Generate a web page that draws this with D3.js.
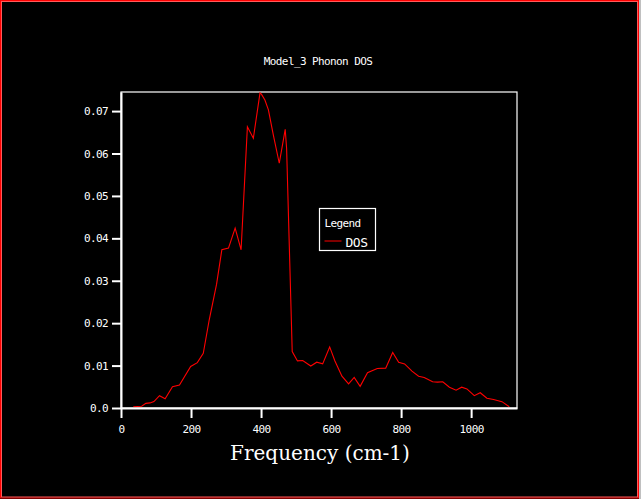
<!DOCTYPE html>
<html>
<head>
<meta charset="utf-8">
<script src="https://cdn.jsdelivr.net/npm/d3@7"></script>
<style>
  html, body { margin: 0; padding: 0; background: #000; overflow: hidden; }
  svg { display: block; }
</style>
</head>
<body>
<div id="chart"></div>
<script>
// values
const frequency = [35, 59, 71, 83, 94, 110, 126, 147, 167, 199, 218, 235, 252, 273, 288, 307, 326, 343, 361, 378, 397, 401, 411, 421, 435, 452, 462, 469, 473, 489, 504, 519, 542, 559, 576, 596, 611, 631, 650, 666, 683, 704, 732, 756, 776, 793, 810, 831, 850, 866, 890, 904, 919, 938, 957, 973, 988, 1009, 1026, 1045, 1064, 1088, 1109];
const dos = [0.0003, 0.0004, 0.0011, 0.0012, 0.0015, 0.0029, 0.0022, 0.0050, 0.0054, 0.0098, 0.0107, 0.0129, 0.0208, 0.0292, 0.0373, 0.0377, 0.0424, 0.0373, 0.0663, 0.0636, 0.0743, 0.0740, 0.0726, 0.0703, 0.0644, 0.0577, 0.0624, 0.0657, 0.0612, 0.0133, 0.0111, 0.0112, 0.0099, 0.0108, 0.0104, 0.0144, 0.0111, 0.0075, 0.0057, 0.0072, 0.0051, 0.0083, 0.0093, 0.0094, 0.0131, 0.0108, 0.0104, 0.0087, 0.0075, 0.0072, 0.0062, 0.0061, 0.0062, 0.0049, 0.0042, 0.0049, 0.0045, 0.0029, 0.0036, 0.0023, 0.0020, 0.0015, 0.0003];
const xTicks = [0, 200, 400, 600, 800, 1000];
const yTicks = [0, 0.01, 0.02, 0.03, 0.04, 0.05, 0.06, 0.07];

const points = frequency.map((f, i) => ({ f: f, v: dos[i] }));

const dims = {
    width: 641,
    height: 499,
    margin: { top: 92, right: 124, bottom: 91, left: 121 }
};
dims.innerW = dims.width - dims.margin.left - dims.margin.right;
dims.innerH = dims.height - dims.margin.top - dims.margin.bottom;

const svg = d3.select("#chart")
    .append("svg")
        .attr("width", dims.width)
        .attr("height", dims.height);

// background + red window frame
svg.append("rect")
    .attr("width", dims.width)
    .attr("height", dims.height)
    .attr("fill", "#000");
svg.append("rect")
    .attr("x", 639).attr("y", 0)
    .attr("width", 2).attr("height", dims.height)
    .attr("fill", "#c0c0c0");
svg.append("rect")
    .attr("x", 0.5).attr("y", 0.5)
    .attr("width", 638).attr("height", 497.5)
    .attr("fill", "none")
    .attr("stroke", "#ff0000");
svg.append("rect")
    .attr("x", 1.5).attr("y", 1.5)
    .attr("width", 636).attr("height", 495.5)
    .attr("fill", "none")
    .attr("stroke", "#ff5a5a");

const monoFont = "'DejaVu Sans Mono', monospace";

// title
svg.append("text")
    .attr("x", 318)
    .attr("y", 65)
    .attr("text-anchor", "middle")
    .attr("fill", "#fff")
    .style("font-family", monoFont)
    .style("font-size", "11px")
    .style("letter-spacing", "-0.6px")
    .text("Model_3 Phonon DOS");

const bounds = svg.append("g")
    .attr("transform", `translate(${dims.margin.left},${dims.margin.top})`);

const xScale = d3.scaleLinear()
    .domain([0, 1131])
    .range([0, dims.innerW]);

const yScale = d3.scaleLinear()
    .domain([0, 0.0745])
    .range([dims.innerH, 0]);

// top and right edges of the plot box
bounds.append("rect")
    .attr("width", dims.innerW)
    .attr("height", dims.innerH)
    .attr("fill", "none")
    .attr("stroke", "#fff")
    .attr("stroke-width", 1.2);

const lineGen = d3.line()
    .x(d => xScale(d.f))
    .y(d => yScale(d.v));

bounds.append("path")
    .datum(points)
    .attr("d", lineGen)
    .attr("fill", "none")
    .attr("stroke", "#ff0000")
    .attr("stroke-width", 1.1);

const xAxisGen = d3.axisBottom(xScale)
    .tickValues(xTicks)
    .tickSize(10)
    .tickSizeOuter(0)
    .tickPadding(7)
    .tickFormat(d3.format("d"));

const xAxis = bounds.append("g")
    .attr("transform", `translate(0,${dims.innerH})`)
    .call(xAxisGen);

const yAxisGen = d3.axisLeft(yScale)
    .tickValues(yTicks)
    .tickSize(9)
    .tickSizeOuter(0)
    .tickPadding(4)
    .tickFormat(d => d === 0 ? "0.0" : d3.format(".2f")(d));

const yAxis = bounds.append("g")
    .call(yAxisGen);

[xAxis, yAxis].forEach(ax => {
    ax.select(".domain").attr("stroke", "#fff").attr("stroke-width", 2);
    ax.selectAll(".tick line").attr("stroke", "#fff").attr("stroke-width", 2);
    ax.selectAll(".tick text")
        .attr("fill", "#fff")
        .style("font-family", monoFont)
        .style("font-size", "11px")
        .style("letter-spacing", "-0.6px");
});

// x axis label
svg.append("text")
    .attr("x", 320)
    .attr("y", 460)
    .attr("text-anchor", "middle")
    .attr("fill", "#fff")
    .style("font-family", "'DejaVu Serif', serif")
    .style("font-size", "20px")
    .text("Frequency (cm-1)");

// legend
const legend = svg.append("g")
    .attr("transform", "translate(319.5,208.5)");

legend.append("rect")
    .attr("width", 56)
    .attr("height", 42)
    .attr("fill", "#000")
    .attr("stroke", "#fff")
    .attr("stroke-width", 1.2);

legend.append("text")
    .attr("x", 5)
    .attr("y", 18)
    .attr("fill", "#fff")
    .style("font-family", monoFont)
    .style("font-size", "11px")
    .style("letter-spacing", "-0.6px")
    .text("Legend");

legend.append("line")
    .attr("x1", 5).attr("x2", 22)
    .attr("y1", 32.5).attr("y2", 32.5)
    .attr("stroke", "#ff0000")
    .attr("stroke-width", 1);

legend.append("text")
    .attr("x", 26)
    .attr("y", 38)
    .attr("fill", "#fff")
    .style("font-family", monoFont)
    .style("font-size", "13px")
    .style("letter-spacing", "-0.5px")
    .text("DOS");
</script>
</body>
</html>
